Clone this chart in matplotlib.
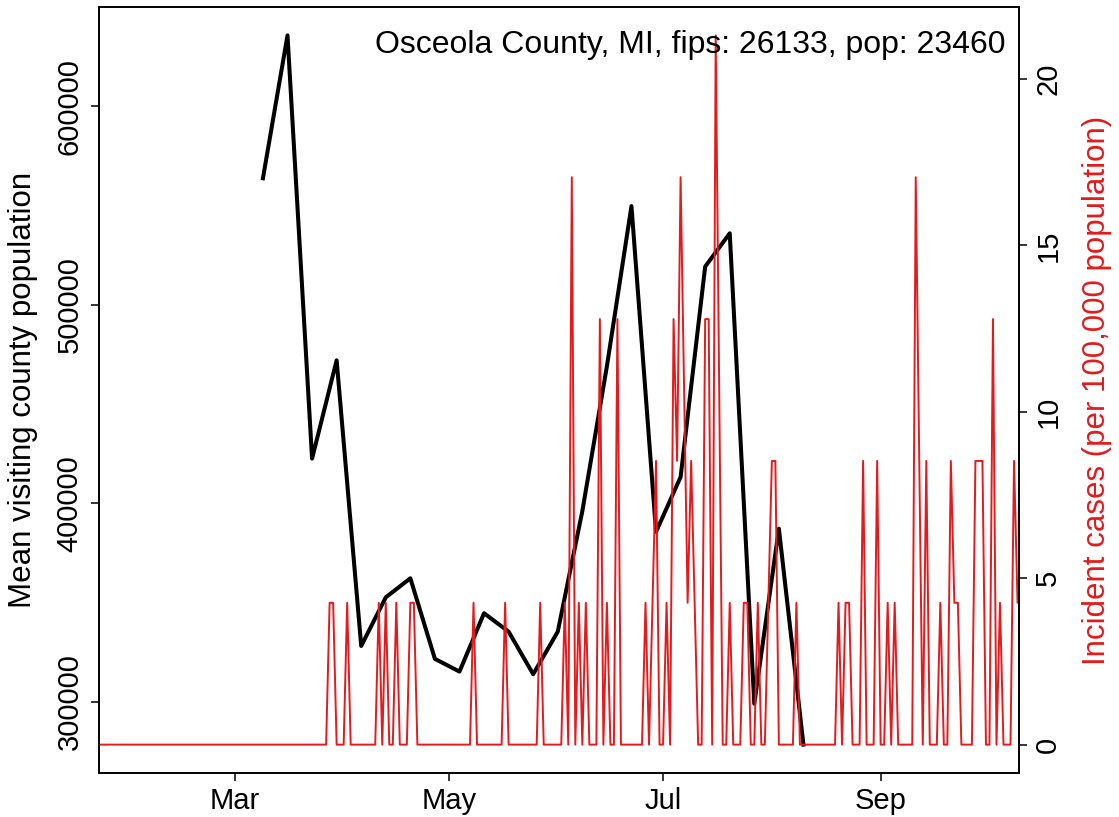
import numpy as np
import pandas as pd
import matplotlib
matplotlib.use("Agg")
import matplotlib.pyplot as plt
import matplotlib.dates as mdates

plt.rcParams['font.family'] = ['Liberation Sans', 'DejaVu Sans']

county_label = "Osceola County, MI, fips: 26133, pop: 23460"
county_pop = 23460

# weekly mean visiting county population
visit_dates = pd.date_range("2020-03-09", periods=23, freq="7D")
visit_pop = [563700, 635700, 422500, 472000, 328100, 352600, 362200, 321600,
             315200, 344600, 335300, 313900, 335300, 396000, 469000, 549700,
             385600, 413200, 519200, 536000, 299000, 387200, 278400]

# daily new cases (day of year 2020, count); flat stretches of zero are left out
case_doy = [21, 87, 88, 89, 90, 92, 93, 94, 101, 102, 103, 104, 105, 106, 107, 108,
            110, 111, 112, 113, 128, 129, 130, 137, 138, 139, 147, 148, 149, 154,
            155, 156, 157, 158, 159, 160, 161, 162, 164, 165, 166, 167, 168, 169,
            170, 171, 177, 178, 179, 180, 181, 182, 183, 184, 185, 186, 187, 188,
            190, 191, 192, 193, 194, 195, 196, 197, 198, 200, 201, 202, 203, 205,
            206, 207, 208, 209, 210, 211, 212, 213, 214, 215, 216, 220, 221, 222,
            232, 233, 234, 235, 236, 237, 239, 240, 241, 243, 244, 245, 246, 247,
            248, 249, 250, 254, 255, 256, 257, 258, 259, 261, 262, 263, 264, 265,
            266, 267, 268, 271, 272, 273, 274, 275, 276, 277, 278, 279, 280, 282,
            283, 284, 285]
case_counts = [0, 0, 1, 1, 0, 0, 1, 0, 0, 1, 0, 1, 0, 0, 1, 0,
               0, 1, 1, 0, 0, 1, 0, 0, 1, 0, 0, 1, 0, 0,
               1, 0, 4, 0, 1, 0, 1, 0, 0, 3, 0, 1, 0, 0,
               3, 0, 0, 1, 0, 1, 2, 0, 0, 1, 0, 3, 2, 4,
               1, 2, 1, 0, 0, 3, 3, 0, 5, 0, 0, 1, 0, 0,
               1, 1, 0, 0, 1, 0, 0, 1, 2, 2, 0, 0, 1, 0,
               0, 1, 0, 1, 1, 0, 0, 2, 0, 0, 2, 0, 0, 1,
               0, 1, 0, 0, 4, 2, 0, 2, 0, 0, 1, 0, 0, 2,
               1, 1, 0, 0, 2, 2, 2, 0, 0, 3, 0, 1, 0, 0,
               2, 1, 1]

case_dates = pd.Timestamp("2020-01-01") + pd.to_timedelta(np.array(case_doy) - 1, unit="D")
case_rate = np.array(case_counts) * 1e5 / county_pop

month_ticks = pd.to_datetime(["2020-03-01", "2020-05-01", "2020-07-01", "2020-09-01"])
x_range = (pd.Timestamp("2020-01-22 07:00"), pd.Timestamp("2020-10-10 10:00"))
red = "#E41A1C"
fs = 21


def rpad(lo, hi):
    d = (hi - lo) * 0.04
    return lo - d, hi + d


fig = plt.figure(figsize=(11.19, 8.17), dpi=100)
ax = fig.add_axes([99 / 1119, 44 / 817, 920 / 1119, 766 / 817])

ax.plot(visit_dates, visit_pop, color="black", lw=2.9, zorder=3)
ax.set_xlim(*x_range)
ax.set_ylim(*rpad(min(visit_pop), max(visit_pop)))
ax.set_yticks([300000, 400000, 500000, 600000])
ax.set_yticklabels(["300000", "400000", "500000", "600000"], rotation=90, va="center")
ax.set_xticks(month_ticks)
ax.xaxis.set_major_formatter(mdates.DateFormatter("%b"))
ax.tick_params(axis="both", direction="out", length=6, width=1.1, labelsize=fs, color="black")
ax.tick_params(axis="y", pad=5)
ax.tick_params(axis="x", pad=4)
ax.set_ylabel("Mean visiting county population", fontsize=fs + 1.5)
ax.yaxis.set_label_coords(-0.083, 0.5)
ax.yaxis.label.set_va("center")
for s in ax.spines.values():
    s.set_linewidth(1.2)

ax2 = ax.twinx()
ax2.plot(case_dates, case_rate, color=red, lw=1.4, zorder=2)
ax2.set_xlim(*x_range)
ax2.set_ylim(*rpad(0, case_rate.max()))
ax2.set_yticks([0, 5, 10, 15, 20])
ax2.set_yticklabels(["0", "5", "10", "15", "20"], rotation=90, va="center")
ax2.tick_params(axis="y", direction="out", length=6, width=1.1, labelsize=fs, pad=5)
ax2.set_ylabel("Incident cases (per 100,000 population)", color=red, fontsize=fs + 1.5, rotation=90)
ax2.yaxis.set_label_coords(1.085, 0.5)
ax2.yaxis.label.set_va("center")
for s in ax2.spines.values():
    s.set_linewidth(1.2)

ax2.text(0.985, 0.95, county_label, transform=ax2.transAxes, ha="right", va="center",
         fontsize=fs + 2)

fig.savefig("out.png", dpi=100)
